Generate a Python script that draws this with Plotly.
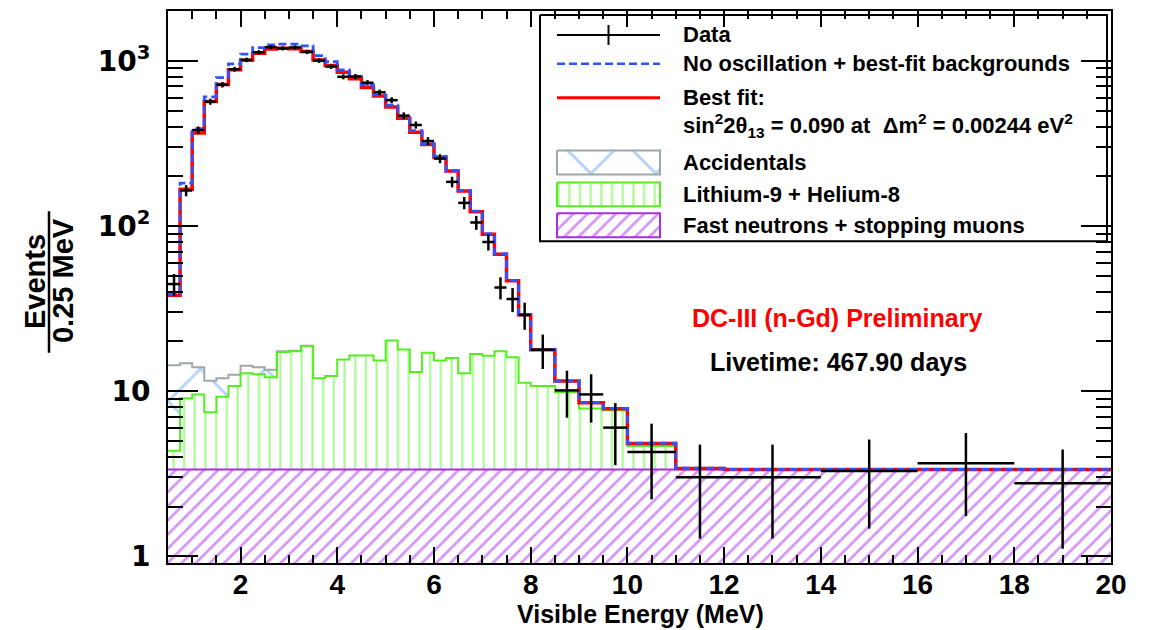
import plotly.graph_objects as go

# ---------------- data ----------------
bin_edges = [0.5, 0.75, 1.0, 1.25, 1.5, 1.75, 2.0, 2.25, 2.5, 2.75, 3.0, 3.25, 3.5, 3.75,
             4.0, 4.25, 4.5, 4.75, 5.0, 5.25, 5.5, 5.75, 6.0, 6.25, 6.5, 6.75, 7.0, 7.25,
             7.5, 7.75, 8.0, 8.5, 9.0, 9.5, 10.0, 11.0, 12.0, 14.0, 16.0, 18.0, 20.0]

# events per 0.25 MeV
data_counts = [44.5, 164, 381, 566, 717, 890, 1014, 1127, 1211, 1191, 1206, 1133, 1004, 924,
               801, 804, 737, 645, 578, 466, 409, 327, 256, 185, 138, 105, 80, 42.4,
               36.1, 28.9, 17.8, 10.1, 9.55, 6.01, 4.28, 3.01, 3.01, 3.28, 3.66, 2.77]
data_err = [6.7, 12.8, 19.5, 23.8, 26.8, 29.8, 31.8, 33.6, 34.8, 34.5, 34.7, 33.7, 31.7, 30.4,
            28.3, 28.4, 27.1, 25.4, 24.0, 21.6, 20.2, 18.1, 16.0, 13.6, 11.7, 10.2, 8.9, 6.5,
            6.0, 5.4, 4.2, 3.2, 3.1, 2.45, 2.07, 1.73, 1.73, 1.81, 1.91, 1.66]

best_fit = [38.1, 167, 366, 568, 720, 882, 1010, 1111, 1178, 1191, 1186, 1138, 1011, 937,
            854, 779, 690, 613, 526, 450, 369, 311, 260, 215, 163, 122, 89.1, 67.5,
            46.6, 29.0, 17.8, 11.5, 8.51, 7.83, 4.82, 3.40, 3.35, 3.35, 3.35, 3.35]
no_osc = [38.9, 182, 388, 605, 791, 959, 1099, 1203, 1249, 1263, 1263, 1233, 1076, 990,
          882, 804, 716, 623, 540, 461, 378, 315, 264, 216, 164, 123, 89.5, 67.8,
          46.8, 29.1, 17.9, 11.5, 8.55, 7.85, 4.84, 3.41, 3.36, 3.36, 3.36, 3.36]

fast_neutrons = [3.35, 3.35, 3.35, 3.35, 3.35, 3.35, 3.35, 3.35, 3.35, 3.35, 3.35, 3.35, 3.35, 3.35,
                 3.35, 3.35, 3.35, 3.35, 3.35, 3.35, 3.35, 3.35, 3.35, 3.35, 3.35, 3.35, 3.35, 3.35,
                 3.35, 3.35, 3.35, 3.35, 3.35, 3.35, 3.35, 3.35, 3.35, 3.35, 3.35, 3.35]
lithium = [1.0, 5.7, 6.2, 4.1, 5.9, 7.4, 9.5, 9.3, 8.8, 13.9, 14.1, 15.4, 8.6, 9.0,
           12.2, 13.1, 13.1, 12.0, 16.9, 14.5, 9.7, 13.7, 12.0, 12.5, 9.5, 13.4, 13.0, 14.1,
           12.7, 7.9, 7.4, 6.5, 4.5, 4.3, 1.3, 0.02, 0.0, 0.0, 0.0, 0.0]
accidentals = [10.0, 5.7, 4.4, 4.1, 2.7, 1.8, 1.4, 1.3, 1.3, 0.2, 0.1, 0.1, 0.0, 0.0,
               0.0, 0.0, 0.0, 0.0, 0.0, 0.0, 0.0, 0.0, 0.0, 0.0, 0.0, 0.0, 0.0, 0.0,
               0.0, 0.0, 0.0, 0.0, 0.0, 0.0, 0.0, 0.0, 0.0, 0.0, 0.0, 0.0]

x_ticks = [2, 4, 6, 8, 10, 12, 14, 16, 18, 20]
y_ticks = [1, 10, 100, 1000]
y_tick_text = ["1", "10", "10<sup>2</sup>", "10<sup>3</sup>"]

legend_labels = ["Data", "No oscillation + best-fit backgrounds", "Best fit:",
                 "sin<sup>2</sup>2θ<sub>13</sub> = 0.090 at  Δm<sup>2</sup> = 0.00244 eV<sup>2</sup>",
                 "Accidentals", "Lithium-9 + Helium-8", "Fast neutrons + stopping muons"]

# ---------------- styling ----------------
RED = "#ff0000"
BLUE = "#2d55ff"
GREEN = "#55ee22"
PURPLE = "#a82eea"
GREY = "#9ea8a8"
LBLUE = "#6aa4f0"
SANS = "Liberation Sans, Arial, Helvetica, sans-serif"

# plot area in pixels
L, R, T, B = 168, 1111, 9, 563
W, H = 1150, 630


def px(x):
    return (x - L) / (R - L)


def py(y):
    return (B - y) / (B - T)


def steps(vals):
    return list(vals) + [vals[-1]]


stack_fn = fast_neutrons
stack_li = [a + b for a, b in zip(stack_fn, lithium)]
stack_acc = [a + b for a, b in zip(stack_li, accidentals)]
centers = [(bin_edges[i] + bin_edges[i + 1]) / 2 for i in range(len(bin_edges) - 1)]
halfw = [(bin_edges[i + 1] - bin_edges[i]) / 2 for i in range(len(bin_edges) - 1)]

fig = go.Figure()
clear = "rgba(0,0,0,0)"

PAT_FN = dict(shape="/", size=10, solidity=0.28, fgcolor=PURPLE, bgcolor=clear)
PAT_LI = dict(shape="|", size=10.7, solidity=0.2, fgcolor=GREEN, bgcolor=clear)
PAT_ACC = dict(shape="x", size=46, solidity=0.12, fgcolor=LBLUE, bgcolor=clear)

# invisible baseline below axis minimum
fig.add_trace(go.Scatter(x=bin_edges, y=[0.5] * len(bin_edges), mode="lines",
                         line=dict(width=0, shape="hv"), hoverinfo="skip"))
fig.add_trace(go.Scatter(x=bin_edges, y=steps(stack_fn), mode="lines", fill="tonexty",
                         line=dict(width=0, shape="hv"), fillcolor=clear,
                         fillpattern=PAT_FN, hoverinfo="skip"))
fig.add_trace(go.Scatter(x=bin_edges, y=steps(stack_li), mode="lines", fill="tonexty",
                         line=dict(width=0, shape="hv"), fillcolor=clear,
                         fillpattern=PAT_LI, hoverinfo="skip"))
fig.add_trace(go.Scatter(x=bin_edges, y=steps(stack_acc), mode="lines", fill="tonexty",
                         line=dict(width=0, shape="hv"), fillcolor=clear,
                         fillpattern=PAT_ACC, hoverinfo="skip"))
# outlines
n_acc = 12
fig.add_trace(go.Scatter(x=bin_edges[:n_acc + 1], y=steps(stack_acc[:n_acc]), mode="lines",
                         line=dict(width=2, color=GREY, shape="hv"), hoverinfo="skip"))
fig.add_trace(go.Scatter(x=bin_edges, y=steps(stack_li), mode="lines",
                         line=dict(width=2, color=GREEN, shape="hv"), hoverinfo="skip"))
fig.add_trace(go.Scatter(x=bin_edges, y=steps(stack_fn), mode="lines",
                         line=dict(width=2, color=PURPLE, shape="hv"), hoverinfo="skip"))
fig.add_trace(go.Scatter(x=bin_edges, y=steps(best_fit), mode="lines",
                         line=dict(width=3.5, color=RED, shape="hv")))
fig.add_trace(go.Scatter(x=bin_edges, y=steps(no_osc), mode="lines",
                         line=dict(width=2.8, color=BLUE, shape="hv", dash="8px,4px")))
fig.add_trace(go.Scatter(x=centers, y=data_counts, mode="markers",
                         marker=dict(size=1, color="black"),
                         error_x=dict(type="data", array=halfw, symmetric=True, width=0,
                                      thickness=2.5, color="black"),
                         error_y=dict(type="data", array=data_err, symmetric=True, width=0,
                                      thickness=2.5, color="black")))

# ---------------- legend (drawn on a pixel-space overlay axis) ----------------
LX0, LX1, LY0, LY1 = 540, 1107, 13, 240
SX0, SX1 = 557, 660
rows = [33, 62, 96, 124, 161, 193, 224]


def pline(xs, ys, **kw):
    fig.add_trace(go.Scatter(x=xs, y=ys, mode="lines", xaxis="x2", yaxis="y2",
                             hoverinfo="skip", **kw))


pline([LX0, LX1, LX1, LX0, LX0], [LY0, LY0, LY1, LY1, LY0], fill="toself",
      fillcolor="white", line=dict(color="black", width=2))
pline([SX0, SX1], [rows[0], rows[0]], line=dict(color="black", width=2))
pline([(SX0 + SX1) / 2, (SX0 + SX1) / 2], [rows[0] - 10, rows[0] + 10], line=dict(color="black", width=2))
pline([SX0, SX1], [rows[1], rows[1]], line=dict(color=BLUE, width=2.5, dash="8px,4px"))
pline([SX0, SX1], [rows[2], rows[2]], line=dict(color=RED, width=3))
for r, col, pat in [(rows[4], GREY, PAT_ACC), (rows[5], GREEN, PAT_LI), (rows[6], PURPLE, PAT_FN)]:
    pline([SX0, SX1, SX1, SX0, SX0], [r - 12, r - 12, r + 12, r + 12, r - 12], fill="toself",
          fillcolor=clear, line=dict(color=col, width=2), fillpattern=pat)

annotations = []
for r, txt in zip(rows, legend_labels):
    annotations.append(dict(x=px(681), y=py(r), xref="paper", yref="paper", text=txt,
                            showarrow=False, xanchor="left", yanchor="middle",
                            font=dict(family=SANS, size=22, color="black", weight="bold")))


def label(x, y, text, size, color="black", angle=0):
    annotations.append(dict(x=px(x), y=py(y), xref="paper", yref="paper", text=text,
                            showarrow=False, xanchor="center", yanchor="middle",
                            textangle=angle,
                            font=dict(family=SANS, size=size, color=color, weight="bold")))


label(837, 317, "DC-III (n-Gd) Preliminary", 25, RED)
label(838, 361, "Livetime: 467.90 days", 25)
label(640, 614, "Visible Energy (MeV)", 25)
label(35, 281, "Events", 29, angle=-90)
label(63, 280, "0.25 MeV", 29, angle=-90)

shapes = [dict(type="line", xref="paper", yref="paper", x0=px(49), x1=px(49),
               y0=py(210), y1=py(352), line=dict(color="black", width=2.5))]

x_minor = [v / 2 for v in range(1, 41) if v % 4 != 0]
y_minor = [m * d for d in (1, 10, 100, 1000) for m in range(2, 10) if m * d < 2100]

fig.update_layout(
    width=W, height=H,
    margin=dict(l=L, r=W - R, t=T, b=H - B),
    paper_bgcolor="white", plot_bgcolor="white",
    showlegend=False,
    annotations=annotations, shapes=shapes,
    xaxis=dict(range=[0.5, 20], tickmode="array", tickvals=x_ticks,
               ticktext=[str(v) for v in x_ticks],
               ticks="inside", ticklen=16, tickwidth=1.5, tickcolor="black",
               showline=True, linewidth=2, linecolor="black", mirror="allticks",
               showgrid=False, zeroline=False, ticklabelstandoff=-5,
               tickfont=dict(family=SANS, size=28, color="black", weight="bold"),
               minor=dict(ticks="inside", ticklen=8, tickwidth=1.5, tickcolor="black",
                          tickvals=x_minor, showgrid=False)),
    yaxis=dict(type="log", range=[-0.041, 3.302], tickmode="array", tickvals=y_ticks,
               ticktext=y_tick_text,
               ticks="inside", ticklen=30, tickwidth=1.5, tickcolor="black",
               showline=True, linewidth=2, linecolor="black", mirror="allticks",
               showgrid=False, zeroline=False, ticklabelstandoff=10,
               tickfont=dict(family="DejaVu Sans, sans-serif", size=28, color="black", weight="bold"),
               minor=dict(ticks="inside", ticklen=15, tickwidth=1.5, tickcolor="black",
                          tickvals=y_minor, showgrid=False)),
    xaxis2=dict(overlaying="x", anchor="y2", range=[L, R], visible=False, fixedrange=True),
    yaxis2=dict(overlaying="y", anchor="x2", range=[B, T], visible=False, fixedrange=True),
)

fig.write_html("out.html")
